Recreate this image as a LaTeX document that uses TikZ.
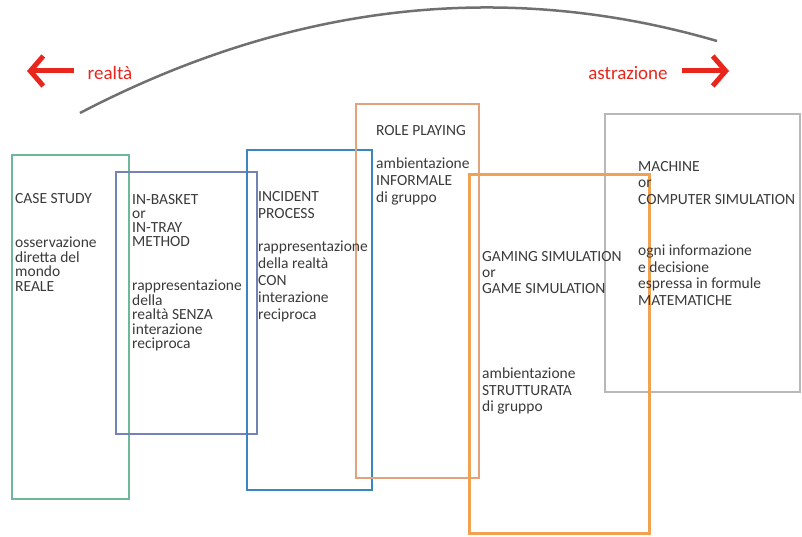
\documentclass[tikz,border=0pt]{standalone}
\usepackage{fontspec}
\setmainfont{Carlito}
\usetikzlibrary{arrows.meta}
\definecolor{casec}{HTML}{6CB898}
\definecolor{basketc}{HTML}{7482B8}
\definecolor{incidc}{HTML}{3A86BE}
\definecolor{rolec}{HTML}{E2A27C}
\definecolor{gamec}{HTML}{F0A252}
\definecolor{machc}{HTML}{B8B8B8}
\definecolor{txtc}{HTML}{3A3A3A}
\definecolor{redc}{HTML}{E8261C}
\definecolor{arcc}{HTML}{707070}
\tikzset{
  lbl/.style={inner sep=0pt, anchor=base west, text=txtc, font=\fontsize{15.5}{16}\selectfont},
  redlbl/.style={inner sep=0pt, anchor=center, text=redc, font=\fontsize{19}{20}\selectfont},
  redarrow/.style={draw=redc, line width=5pt, -{Straight Barb[length=13pt,width=30pt,line width=5pt]}},
  boxframe/.style={draw, fill=none}
}
\begin{document}
\begin{tikzpicture}[x=1pt,y=-1pt]
\useasboundingbox (0,0) rectangle (802,537);
% arc
\coordinate (arcA) at (80,113);
\coordinate (arcB) at (717,41);
\draw[arcc, line width=2.5pt] (arcA) .. controls (291,3) and (504,-21) .. (arcB);
% red arrows
\coordinate (lA) at (74,71);
\coordinate (lB) at (27,71);
\draw[redarrow] (lA) -- (lB);
\coordinate (rA) at (682,71);
\coordinate (rB) at (729,71);
\draw[redarrow] (rA) -- (rB);
\node[redlbl] (realta) at (110,73) {realtà};
\node[redlbl] (astraz) at (628,73) {astrazione};
% boxes
\draw[boxframe, casec, line width=1.6pt] (12,155) rectangle (129,499);
\draw[boxframe, basketc, line width=1.6pt] (116,172) rectangle (257,434);
\draw[boxframe, incidc, line width=2.6pt] (247,150) rectangle (372,490);
\draw[boxframe, rolec, line width=2pt] (356,104) rectangle (479,478);
\draw[boxframe, machc, line width=2pt] (605,114) rectangle (800,392);
\draw[boxframe, gamec, line width=3pt] (469,175) rectangle (649,533);
% case study
\node[lbl] (case-t) at (15,203.5) {CASE STUDY};
\foreach \t [count=\i] in {osservazione, diretta del, mondo, REALE}
  \node[lbl] (case-d\i) at (15,{247.5+14.5*(\i-1)}) {\t};
% in-basket
\foreach \t [count=\i] in {IN-BASKET, or, IN-TRAY, METHOD}
  \node[lbl] (bask-t\i) at (132,{204.5+14*(\i-1)}) {\t};
\foreach \t [count=\i] in {rappresentazione, della, realtà SENZA, interazione, reciproca}
  \node[lbl] (bask-d\i) at (132,{290.5+14.5*(\i-1)}) {\t};
% incident process
\foreach \t [count=\i] in {INCIDENT, PROCESS}
  \node[lbl] (inc-t\i) at (258,{201.5+17*(\i-1)}) {\t};
\foreach \t [count=\i] in {rappresentazione, della realtà, CON, interazione, reciproca}
  \node[lbl] (inc-d\i) at (258,{251.5+17*(\i-1)}) {\t};
% role playing
\node[lbl] (role-t) at (376,135.5) {ROLE PLAYING};
\foreach \t [count=\i] in {ambientazione, INFORMALE, di gruppo}
  \node[lbl] (role-d\i) at (376,{168.5+17*(\i-1)}) {\t};
% gaming simulation
\foreach \t [count=\i] in {GAMING SIMULATION, or, GAME SIMULATION}
  \node[lbl] (game-t\i) at (482,{261.5+16*(\i-1)}) {\t};
\foreach \t [count=\i] in {ambientazione, STRUTTURATA, di gruppo}
  \node[lbl] (game-d\i) at (482,{378.5+16.5*(\i-1)}) {\t};
% machine simulation
\foreach \t [count=\i] in {MACHINE, or, COMPUTER SIMULATION}
  \node[lbl] (mach-t\i) at (638,{171.5+16.5*(\i-1)}) {\t};
\foreach \t [count=\i] in {ogni informazione, e decisione, espressa in formule, MATEMATICHE}
  \node[lbl] (mach-d\i) at (638,{255.5+16.5*(\i-1)}) {\t};
\end{tikzpicture}
\end{document}
